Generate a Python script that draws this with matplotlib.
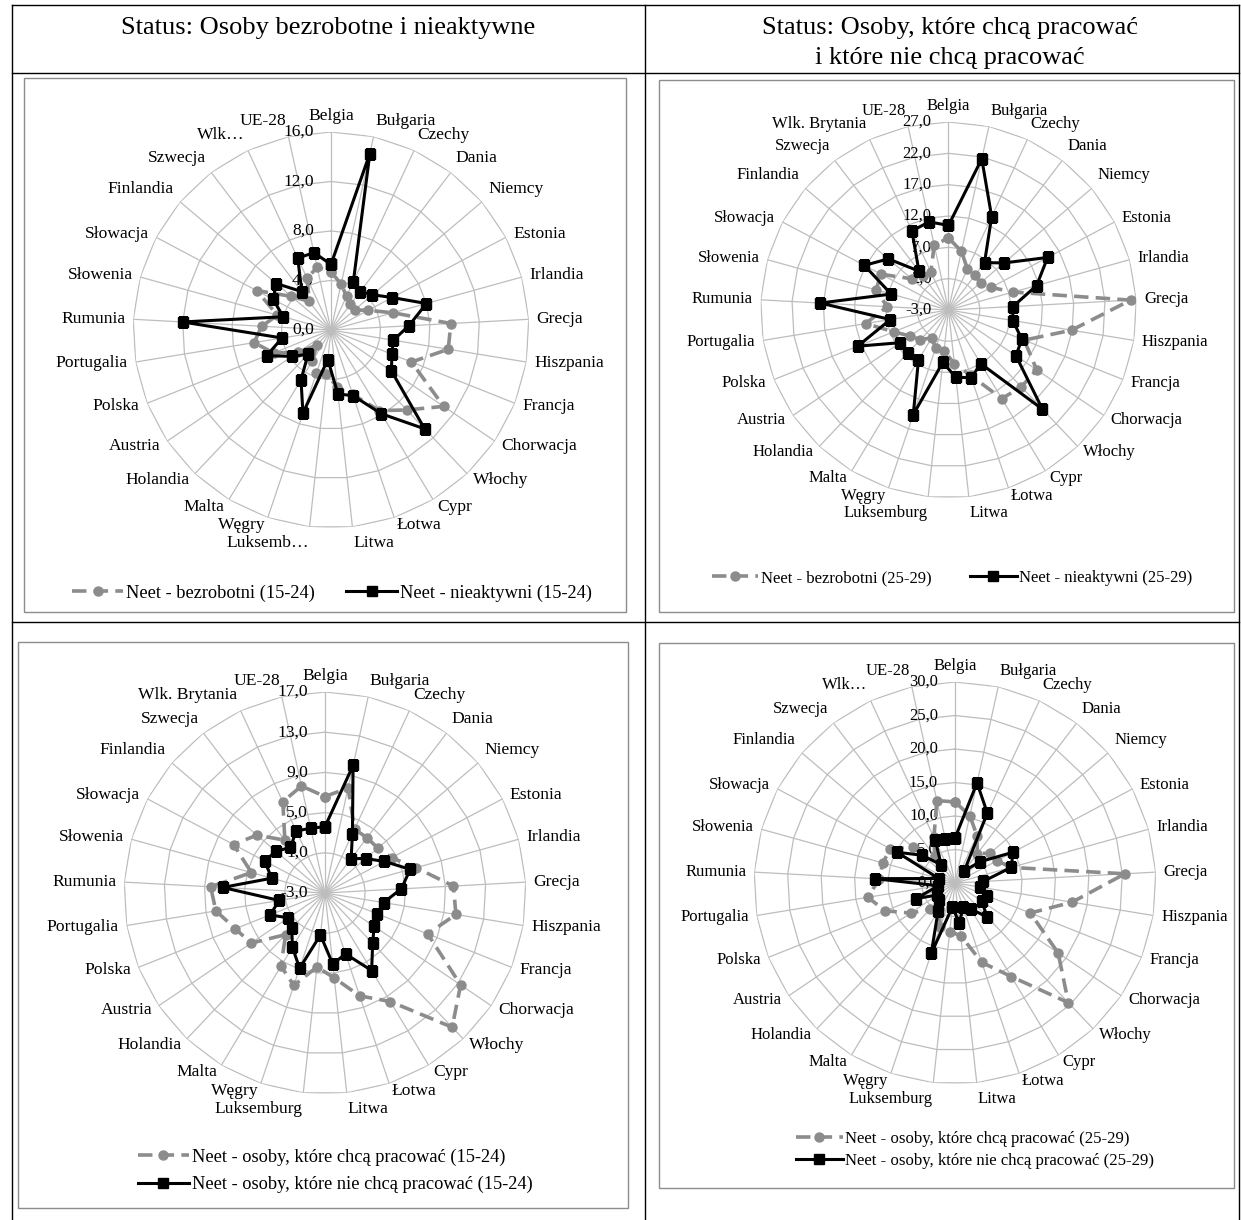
import matplotlib
matplotlib.use('Agg')
import matplotlib.pyplot as plt
from matplotlib.lines import Line2D
from matplotlib.patches import Rectangle
import numpy as np

plt.rcParams['font.family'] = ['Liberation Serif', 'DejaVu Serif']

W, H = 1241, 1220

kraje = ['Belgia', 'Bułgaria', 'Czechy', 'Dania', 'Niemcy', 'Estonia', 'Irlandia',
         'Grecja', 'Hiszpania', 'Francja', 'Chorwacja', 'Włochy', 'Cypr', 'Łotwa',
         'Litwa', 'Luksemburg', 'Węgry', 'Malta', 'Holandia', 'Austria', 'Polska',
         'Portugalia', 'Rumunia', 'Słowenia', 'Słowacja', 'Finlandia', 'Szwecja',
         'Wlk. Brytania', 'UE-28']
# Excel obcina niektore etykiety
kraje_1 = kraje[:15] + ['Luksemb…'] + kraje[16:27] + ['Wlk…', 'UE-28']
kraje_4 = kraje[:27] + ['Wlk…', 'UE-28']

# Status: bezrobotni / nieaktywni
bezrobotni_15_24 = [4.7, 3.8, 3.0, 2.6, 2.5, 3.4, 5.2, 9.7, 9.6, 7.0, 11.0, 8.9, 7.6, 5.5,
                    4.6, 3.6, 3.7, 2.9, 1.7, 3.2, 5.0, 6.3, 5.6, 4.5, 6.8, 4.2, 2.9, 4.6, 5.2]
nieaktywni_15_24 = [5.3, 14.6, 4.3, 3.9, 4.4, 5.6, 8.0, 6.3, 5.1, 5.3, 5.9, 11.0, 7.9, 5.6,
                    5.2, 2.4, 7.1, 4.7, 2.7, 3.8, 5.6, 4.0, 12.0, 4.0, 5.3, 5.8, 3.9, 6.4, 6.4]
bezrobotni_25_29 = [8.5, 6.6, 4.2, 4.0, 3.7, 4.7, 7.7, 26.1, 16.9, 10.0, 14.0, 13.9, 13.5, 8.0,
                    5.6, 3.6, 3.4, 2.2, 3.5, 4.4, 6.4, 10.4, 6.8, 9.0, 9.2, 4.7, 3.8, 3.7, 7.6]
nieaktywni_25_29 = [10.5, 21.7, 13.4, 6.5, 8.6, 14.9, 11.6, 7.3, 7.4, 9.6, 10.0, 18.8, 7.0, 8.4,
                    7.8, 5.4, 14.6, 6.3, 6.4, 6.3, 12.6, 6.4, 17.5, 6.5, 12.2, 9.6, 4.8, 10.9, 11.4]

# Status: chca / nie chca pracowac
chca_15_24 = [6.6, 7.7, 4.0, 3.9, 3.9, 4.5, 6.4, 9.8, 10.2, 8.0, 13.3, 15.4, 9.6, 7.8,
              5.5, 4.4, 6.7, 5.5, 2.7, 5.9, 6.6, 8.0, 8.4, 4.6, 7.3, 5.9, 3.6, 7.0, 7.9]
nie_chca_15_24 = [3.6, 10.0, 3.5, 1.3, 2.3, 3.7, 5.8, 4.6, 2.9, 2.6, 2.9, 3.9, 6.0, 3.4,
                  4.1, 1.2, 4.9, 3.3, 1.8, 1.4, 2.9, 1.6, 7.2, 2.5, 3.8, 3.4, 2.7, 3.8, 3.6]
chca_25_29 = [12.1, 10.3, 7.8, 5.5, 6.9, 7.1, 8.7, 25.4, 17.7, 12.1, 18.6, 24.6, 16.3, 12.5,
              7.9, 7.3, 7.0, 4.5, 5.4, 8.0, 11.2, 13.2, 11.3, 11.2, 10.9, 8.3, 5.0, 7.5, 12.6]
nie_chca_25_29 = [6.7, 15.3, 11.5, 2.3, 4.9, 9.8, 8.7, 4.2, 3.8, 5.1, 4.8, 7.0, 4.5, 3.8,
                  6.0, 3.6, 11.1, 4.9, 3.5, 3.2, 6.3, 2.5, 12.0, 2.5, 9.8, 6.4, 3.4, 7.0, 6.8]

skala_1 = [0, 4, 8, 12, 16]
skala_2 = [-3, 2, 7, 12, 17, 22, 27]
skala_3 = [-3, 1, 5, 9, 13, 17]
skala_4 = [0, 5, 10, 15, 20, 25, 30]

GRAY = '#8c8c8c'
GRID = '#bdbdbd'


def fx(x):
    return x / W


def fy(y):
    return 1 - y / H


def radar(fig, cx, cy, R, labels, ticks, s1, s2, name1, name2,
          leg_xy, ncol, fs, lfs, colspace=1.7, labspace=0.5):
    ax = fig.add_axes([fx(cx - R), fy(cy + R), 2 * R / W, 2 * R / H], projection='polar')
    ax.set_theta_zero_location('N')
    ax.set_theta_direction(-1)
    ax.set_ylim(ticks[0], ticks[-1])
    ax.grid(False)
    ax.set_xticks([])
    ax.set_yticks([])
    ax.spines['polar'].set_visible(False)
    ax.patch.set_alpha(0)

    n = len(labels)
    theta = np.arange(n) * 2 * np.pi / n
    tc = np.append(theta, theta[0])

    for t in ticks[1:]:
        ax.plot(tc, [t] * (n + 1), color=GRID, lw=0.9, zorder=1)
    for t in theta:
        ax.plot([t, t], [ticks[0], ticks[-1]], color=GRID, lw=0.9, zorder=1)

    for t in ticks:
        ax.annotate(('%.1f' % t).replace('.', ','), xy=(0, t), xytext=(-17, 0),
                    textcoords='offset pixels', ha='right', va='center',
                    fontsize=fs, zorder=2, annotation_clip=False)

    for t, lab in zip(theta, labels):
        s, c = np.sin(t), np.cos(t)
        if abs(s) < 0.05:
            ha = 'center'
        elif s > 0:
            ha = 'left'
        else:
            ha = 'right'
        if c > 0.6:
            va = 'bottom'
        elif c < -0.99:
            va = 'top'
        else:
            va = 'center'
        ax.annotate(lab, xy=(t, ticks[-1]), xytext=(8 * s, 8 * c),
                    textcoords='offset pixels', ha=ha, va=va, fontsize=fs,
                    annotation_clip=False)

    l1, = ax.plot(tc, np.append(s1, s1[0]), color=GRAY, lw=2.6, ls=(0, (4, 2)),
                  marker='o', ms=6.5, label=name1, zorder=3)
    l2, = ax.plot(tc, np.append(s2, s2[0]), color='black', lw=2.2,
                  marker='s', ms=7, label=name2, zorder=4)

    fig.legend(handles=[l1, l2], loc='center', bbox_to_anchor=(fx(leg_xy[0]), fy(leg_xy[1])),
               ncol=ncol, frameon=False, fontsize=lfs, handlelength=2.8,
               handletextpad=0.15, columnspacing=colspace, labelspacing=labspace,
               borderpad=0)
    return ax


fig = plt.figure(figsize=(W / 100, H / 100), dpi=100)

# tabela
tab = dict(color='black', lw=1.0, transform=fig.transFigure)
fig.add_artist(Line2D([fx(12), fx(1239)], [fy(5), fy(5)], **tab))
fig.add_artist(Line2D([fx(12), fx(1239)], [fy(73), fy(73)], **tab))
fig.add_artist(Line2D([fx(12), fx(1239)], [fy(622), fy(622)], **tab))
fig.add_artist(Line2D([fx(12), fx(12)], [fy(5), fy(1220)], **tab))
fig.add_artist(Line2D([fx(645), fx(645)], [fy(5), fy(1220)], **tab))
fig.add_artist(Line2D([fx(1239), fx(1239)], [fy(5), fy(1220)], **tab))

fig.text(fx(328), fy(28), 'Status: Osoby bezrobotne i nieaktywne', ha='center', va='center', fontsize=19)
fig.text(fx(950), fy(28), 'Status: Osoby, które chcą pracować', ha='center', va='center', fontsize=19)
fig.text(fx(950), fy(58), 'i które nie chcą pracować', ha='center', va='center', fontsize=19)

# ramki wykresow
for (x0, y0, x1, y1) in [(24, 78, 626, 612), (659, 80, 1234, 612),
                         (18, 642, 628, 1208), (659, 643, 1234, 1188)]:
    fig.add_artist(Rectangle((fx(x0), fy(y1)), (x1 - x0) / W, (y1 - y0) / H,
                             transform=fig.transFigure, fill=False, ec='#8c8c8c', lw=1.0))

radar(fig, 331, 330, 198, kraje_1, skala_1, bezrobotni_15_24, nieaktywni_15_24,
      'Neet - bezrobotni (15-24)', 'Neet - nieaktywni (15-24)',
      (332, 593), 2, 12.6, 13.2, colspace=1.7)
radar(fig, 948.5, 310, 188, kraje, skala_2, bezrobotni_25_29, nieaktywni_25_29,
      'Neet - bezrobotni (25-29)', 'Neet - nieaktywni (25-29)',
      (952, 578), 2, 12, 12, colspace=2.3)
radar(fig, 325, 893, 201, kraje, skala_3, chca_15_24, nie_chca_15_24,
      'Neet - osoby, które chcą pracować (15-24)', 'Neet - osoby, które nie chcą pracować (15-24)',
      (335, 1171), 1, 12.6, 13.2, labspace=0.55)
radar(fig, 955, 883, 201, kraje_4, skala_4, chca_25_29, nie_chca_25_29,
      'Neet - osoby, które chcą pracować (25-29)', 'Neet - osoby, które nie chcą pracować (25-29)',
      (975, 1150), 1, 12, 12.1, labspace=0.4)

fig.savefig('out.png', dpi=100)
